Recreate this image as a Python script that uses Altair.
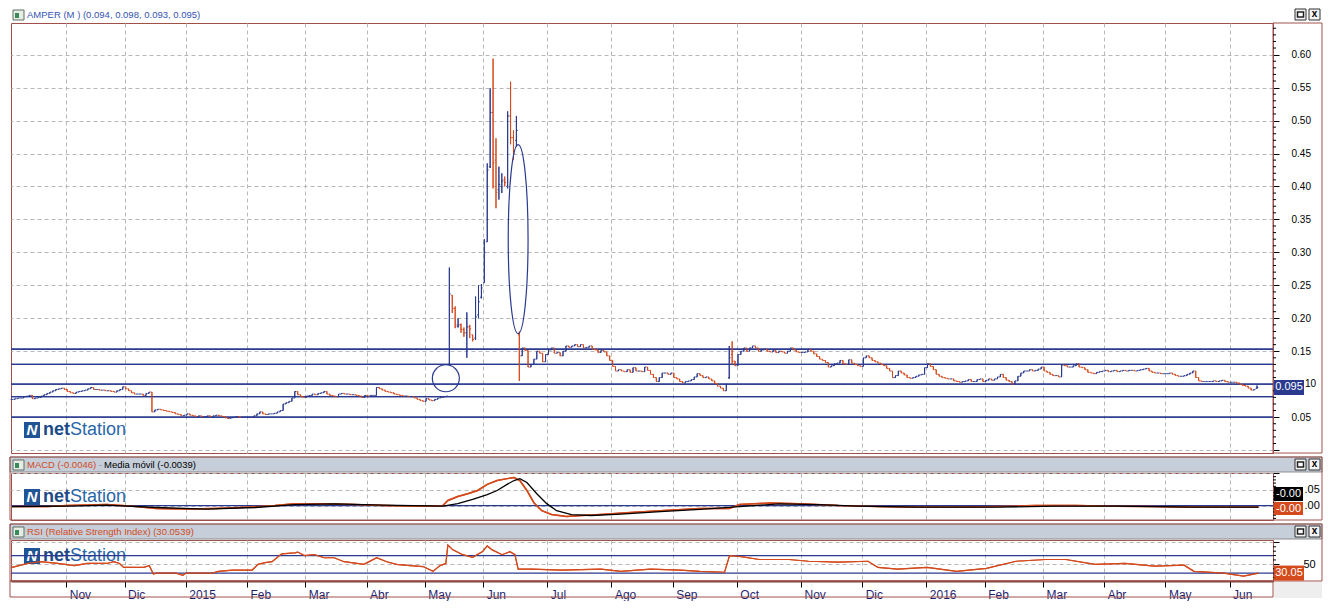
import altair as alt
import pandas as pd

FONT = "Liberation Sans"
NAVY = "#2a3a8f"
ORANGE = "#d44a1c"
BROWN = "#a0504a"
GRID = "#b8b8b8"
BAR_BG = "#c5ced9"
TITLE_BLUE = "#3553b0"

# ---------------- daily closes, grouped by month ----------------
c_2014_10 = [0.077,0.078,0.079,0.079,0.081,0.082,0.083,0.078,0.079,0.080,0.082,0.084,0.086,0.088,0.090,0.092,0.093,0.094,0.092]
c_2014_11 = [0.089,0.087,0.086,0.088,0.089,0.090,0.091,0.093,0.095,0.092,0.092,0.091,0.091,0.090,0.090,0.089,0.088,0.090,0.092,0.096]
c_2014_12 = [0.093,0.090,0.087,0.085,0.085,0.085,0.083,0.086,0.088,0.058,0.061,0.062,0.061,0.060,0.059,0.058,0.057,0.055,0.054,0.052,0.053]
c_2015_01 = [0.055,0.053,0.052,0.051,0.052,0.051,0.051,0.052,0.051,0.052,0.053,0.052,0.051,0.049,0.048,0.049,0.050,0.051,0.050,0.050,0.050]
c_2015_02 = [0.050,0.050,0.052,0.055,0.058,0.055,0.054,0.055,0.055,0.056,0.058,0.060,0.070,0.072,0.074,0.079,0.089,0.084,0.081,0.080]
c_2015_03 = [0.082,0.083,0.085,0.084,0.086,0.087,0.089,0.085,0.083,0.082,0.081,0.085,0.086,0.085,0.085,0.084,0.084,0.083,0.082,0.080,0.083]
c_2015_04 = [0.082,0.083,0.083,0.095,0.093,0.091,0.089,0.088,0.087,0.085,0.084,0.083,0.082,0.082,0.081,0.081,0.079,0.077,0.075,0.074]
c_2015_05 = [0.078,0.076,0.075,0.077,0.079,0.080,0.081,0.082,0.237,0.215,0.190,0.190,0.183,0.178,0.187,0.184,0.168,0.202,0.225,0.246]
c_2015_06 = [0.300,0.425,0.512,0.436,0.391,0.403,0.408,0.406,0.507,0.474,0.450,0.485,0.143,0.155,0.151,0.126,0.130,0.138,0.150,0.147,0.134,0.145]
c_2015_07 = [0.152,0.155,0.147,0.148,0.143,0.150,0.158,0.156,0.158,0.160,0.157,0.160,0.155,0.156,0.158,0.153,0.152,0.148,0.151,0.149,0.143,0.136]
c_2015_08 = [0.127,0.120,0.122,0.120,0.119,0.122,0.118,0.125,0.120,0.120,0.119,0.126,0.121,0.115,0.110,0.104,0.110,0.117,0.117,0.115,0.117]
c_2015_09 = [0.110,0.108,0.104,0.102,0.104,0.105,0.107,0.111,0.116,0.113,0.110,0.111,0.108,0.105,0.101,0.097,0.094,0.090,0.100,0.140,0.135,0.128]
c_2015_10 = [0.145,0.150,0.155,0.150,0.155,0.158,0.155,0.150,0.152,0.153,0.150,0.149,0.151,0.148,0.150,0.149,0.147,0.150,0.155,0.152,0.149,0.148]
c_2015_11 = [0.148,0.149,0.153,0.150,0.146,0.142,0.138,0.136,0.133,0.126,0.128,0.131,0.132,0.136,0.131,0.130,0.137,0.132,0.130,0.128,0.127]
c_2015_12 = [0.140,0.143,0.140,0.136,0.134,0.132,0.130,0.128,0.124,0.120,0.110,0.113,0.120,0.117,0.114,0.110,0.109,0.110,0.112,0.114,0.115,0.125]
c_2016_01 = [0.131,0.127,0.122,0.115,0.112,0.110,0.109,0.108,0.108,0.105,0.104,0.103,0.104,0.105,0.107,0.104,0.104,0.107,0.108,0.104]
c_2016_02 = [0.106,0.108,0.106,0.108,0.111,0.115,0.110,0.106,0.104,0.100,0.105,0.112,0.117,0.120,0.120,0.122,0.120,0.121,0.123,0.126]
c_2016_03 = [0.120,0.118,0.115,0.113,0.113,0.111,0.129,0.128,0.126,0.126,0.128,0.131,0.126,0.125,0.122,0.118,0.117,0.116,0.118,0.119,0.120]
c_2016_04 = [0.121,0.119,0.120,0.121,0.119,0.120,0.121,0.120,0.121,0.121,0.120,0.121,0.122,0.123,0.124,0.120,0.118,0.117,0.117,0.116,0.116]
c_2016_05 = [0.116,0.117,0.115,0.113,0.112,0.112,0.113,0.115,0.117,0.120,0.110,0.105,0.104,0.104,0.104,0.104,0.105,0.104,0.105,0.106,0.104,0.103]
c_2016_06 = [0.103,0.103,0.102,0.100,0.098,0.097,0.094,0.091,0.092,0.095]

month_names = ["Oct", "Nov", "Dic", "2015", "Feb", "Mar", "Abr", "May", "Jun", "Jul", "Ago",
               "Sep", "Oct", "Nov", "Dic", "2016", "Feb", "Mar", "Abr", "May", "Jun"]
month_closes = [c_2014_10, c_2014_11, c_2014_12, c_2015_01, c_2015_02, c_2015_03, c_2015_04,
                c_2015_05, c_2015_06, c_2015_07, c_2015_08, c_2015_09, c_2015_10, c_2015_11,
                c_2015_12, c_2016_01, c_2016_02, c_2016_03, c_2016_04, c_2016_05, c_2016_06]

# full open/high/low for the wide-range sessions (day index)
detail_idx = list(range(150, 175)) + [246, 247, 427]
detail_open = [0.130,0.235,0.215,0.188,0.190,0.183,0.178,0.187,0.175,0.170,0.205,0.232,0.254,0.316,
               0.430,0.512,0.440,0.395,0.400,0.410,0.400,0.507,0.474,0.470,0.175,0.110,0.145,0.094]
detail_high = [0.277,0.235,0.218,0.200,0.192,0.186,0.209,0.190,0.175,0.233,0.250,0.252,0.320,0.435,
               0.549,0.594,0.473,0.430,0.420,0.415,0.514,0.559,0.485,0.507,0.180,0.158,0.165,0.098]
detail_low = [0.128,0.208,0.185,0.186,0.178,0.172,0.140,0.170,0.165,0.167,0.200,0.230,0.254,0.316,
              0.428,0.397,0.367,0.380,0.390,0.400,0.397,0.464,0.440,0.460,0.105,0.108,0.130,0.093]

# drawn support / resistance lines and annotations
hlines = [0.153, 0.130, 0.100, 0.081, 0.050]
ring_i, ring_v = [148.8], [0.109]
oval_i, oval_v = [173.6], [0.320]

# MACD (orange) and its moving average (black)
macd_i = [0,12.2,19,32.5,42.7,49.5,59.7,69.8,80,90.2,97,107,117,127.5,141,147.8,149.5,152.9,156.3,159.7,
          163,166.4,169.8,172.2,174.2,176.6,179,181.7,185,190.2,195.3,202,212.2,222.4,236,246,249.5,259.7,
          269.8,283.4,297,310.5,324,337.6,351.2,364.7,378.3,391.9,405.4,427.5]
macd_v = [-0.003,-0.003,0.0,0.003,-0.003,-0.009,-0.011,-0.009,-0.005,0.0,0.006,0.006,0.003,0.0,-0.002,0.0,
          0.016,0.028,0.037,0.047,0.066,0.078,0.084,0.0875,0.078,0.047,0.009,-0.016,-0.028,-0.034,-0.031,
          -0.028,-0.022,-0.016,-0.009,-0.009,0.003,0.008,0.006,0.0,-0.003,-0.005,-0.005,-0.003,0.0,0.0,
          -0.002,-0.003,-0.005,-0.005]
sig_i = [0,19,32.5,49.5,66.4,83.4,97,110.5,127.5,147.8,152.9,158,163,166.4,169.8,172.2,174.2,176.6,180,
         183.4,186.8,191.9,198.6,208.8,222.4,236,249.5,263,276.6,290.2,310.5,337.6,358,378.3,405.4,427.5]
sig_v = [-0.003,-0.0015,0.0015,-0.006,-0.011,-0.006,0.003,0.005,0.0015,-0.0015,0.006,0.019,0.034,0.047,
         0.066,0.078,0.084,0.072,0.037,0.006,-0.016,-0.028,-0.031,-0.027,-0.019,-0.012,-0.003,0.005,0.003,
         -0.0015,-0.005,-0.005,-0.0015,-0.0015,-0.005,-0.005]

# RSI
rsi_i = [0,5.4,9.8,15.6,21.4,25.8,32.5,34.9,36.9,38.3,42.7,45.1,47.1,48.5,49.5,56.3,58.6,59.7,66.4,68.8,
         70.8,75.6,82.4,84.4,86.8,89.2,92.5,97,98,100.3,103.7,107.1,110.5,113.9,118.3,120.7,125.1,128.5,
         131.9,136.6,141,144.4,146.8,148.8,149.5,151.2,154.6,158,161.4,163,164.7,168.1,170.8,172.5,173.6,
         178.3,188.5,202,208.8,219,229.2,236,244.4,246.1,249.5,256.3,266.4,273.2,283.4,293.6,297,303.7,
         313.9,324,334.2,344.4,354.6,361.4,371.5,381.7,391.9,402,405.4,415.6,422.4,427.5]
rsi_v = [43,52,56,52,47,52,52,56,52,43,43,43,47,28,30,30,25,30,30,30,34,37,37,50,54,56,74,76,78,70,72,
         65,65,56,52,50,65,56,50,47,45,34,47,52,94,83,72,66,79,92,83,72,79,72,39,39,37,39,34,39,37,34,32,
         70,68,61,61,57,55,57,43,39,43,34,41,57,61,61,50,52,46,48,34,30,23,30]

# ---------------- build tables ----------------
closes = [c for m in month_closes for c in m]
starts, n = [], 0
for m in month_closes:
    starts.append(n)
    n += len(m)
tick_pos = [s - 0.4 for s in starts[1:]]
tick_names = month_names[1:]

detail = {i: (o, h, l) for i, o, h, l in zip(detail_idx, detail_open, detail_high, detail_low)}
rows, prev = [], closes[0]
for i, c in enumerate(closes):
    if i in detail:
        o, h, l = detail[i]
    else:
        o, h, l = prev, max(prev, c), min(prev, c)
    rows.append(dict(i=i, il=i - 0.45, ir=i + 0.45, o=o, h=h, l=l, c=c, d="down" if c < o else "up"))
    prev = c
bars = pd.DataFrame(rows)

one = pd.DataFrame({"k": [0]})

PW = 1262
AX = 49
H1, H2, H3 = 430, 47, 41
XS = alt.Scale(domain=[-0.34, 432.5], nice=False, zero=False)

conds = []
for k in range(len(tick_pos) - 1):
    mid = (tick_pos[k] + tick_pos[k + 1]) / 2
    conds.append(f"datum.value < {mid:.2f} ? '{tick_names[k]}' : ")
x_label_expr = "".join(conds) + f"'{tick_names[-1]}'"

XA_GRID = alt.Axis(values=tick_pos, grid=True, gridColor=GRID, gridDash=[4, 3], labels=False,
                   ticks=False, domain=False, title=None)
XA_BOTTOM = alt.Axis(values=tick_pos, grid=True, gridColor=GRID, gridDash=[4, 3], labelExpr=x_label_expr,
                     labelAlign="left", labelOffset=3, labelPadding=2, labelFontSize=12,
                     labelColor="#1f1f70", labelFont=FONT, tickSize=6, tickColor="black",
                     domainColor="#7a3a36", domainWidth=2, title=None, labelOverlap=False,
                     labelFlush=False, labelBound=False)


def txt(s, x, y, color="black", size=9.5, weight="normal", align="left", style="normal"):
    return alt.Chart(one).mark_text(text=s, align=align, baseline="middle", color=color, fontSize=size,
                                    fontWeight=weight, fontStyle=style, font=FONT).encode(
        x=alt.value(x), y=alt.value(y))


def rect(x, x2, y, y2, fill="white", stroke=None, sw=1, fo=1):
    kw = dict(fill=fill, fillOpacity=fo)
    if stroke:
        kw.update(stroke=stroke, strokeWidth=sw)
    return alt.Chart(one).mark_rect(**kw).encode(x=alt.value(x), x2=alt.value(x2), y=alt.value(y),
                                                 y2=alt.value(y2))


def title_bar(bg, parts):
    layers = []
    if bg:
        layers.append(rect(-1, PW + AX, -16, -1, fill=bg, stroke="#8d8d8d"))
    layers.append(rect(2, 13, -13, -3, fill="#e6ece6", stroke="#5f6f63"))
    layers.append(rect(4, 8, -10, -5, fill="#3b8a5b"))
    for s, x, color in parts:
        layers.append(txt(s, x, -8, color))
    layers.append(rect(1284, 1295, -14, -3, fill="#f4f4f4", stroke="#303030"))
    layers.append(rect(1286.5, 1292.5, -11, -6, fill="white", stroke="#202020", sw=1.5))
    layers.append(rect(1298, 1309, -14, -3, fill="#f4f4f4", stroke="#303030"))
    layers.append(txt("x", 1303.5, -9, size=10, weight="bold", align="center"))
    return layers


def logo(y):
    return [rect(13, 29, y - 8, y + 8, fill="#1f5596"),
            txt("N", 21, y, color="white", size=15, weight="bold", align="center", style="italic"),
            txt("net", 32, y, color="#1d4a88", size=18, weight="bold"),
            txt("Station", 59, y, color="#2966a8", size=18)]


def minor_ticks(vals, yscale, yaxis):
    return alt.Chart(pd.DataFrame({"v": vals})).mark_rule(color="black", strokeWidth=1).encode(
        x=alt.value(PW), x2=alt.value(PW + 3), y=alt.Y("v:Q", scale=yscale, axis=yaxis))


BOX = "M-1,-0.5H1V0.5H-1Z"


def value_box(v, yscale, yaxis, fill, label):
    d = pd.DataFrame({"v": [v]})
    b = alt.Chart(d).mark_point(shape=BOX, size=900, filled=True, fill=fill, opacity=1, strokeWidth=0).encode(
        x=alt.value(PW + 16), y=alt.Y("v:Q", scale=yscale, axis=yaxis))
    t = alt.Chart(d).mark_text(text=label, color="white", fontSize=11, font=FONT, align="center",
                               baseline="middle").encode(x=alt.value(PW + 16),
                                                         y=alt.Y("v:Q", scale=yscale, axis=yaxis))
    return [b, t]


color_enc = alt.Color("d:N", scale=alt.Scale(domain=["up", "down"], range=[NAVY, ORANGE]), legend=None)

# ---------------- main price panel ----------------
Y1 = alt.Scale(domain=[-0.0044, 0.648], nice=False, zero=False)
y1_vals = [round(k * 0.05, 2) for k in range(0, 13)]
YA1 = alt.Axis(orient="right", values=y1_vals,
               labelExpr="(datum.value < 0.01 || abs(datum.value - 0.1) < 0.001) ? '' : format(datum.value, '.2f')",
               grid=True, gridColor=GRID, gridDash=[4, 3], tickSize=6, tickColor="black",
               domainColor=BROWN, labelFontSize=10, labelFont=FONT, labelPadding=12,
               labelColor="black", title=None)


def X1(f):
    return alt.X(f, scale=XS, axis=XA_GRID)


def Y1e(f):
    return alt.Y(f, scale=Y1, axis=YA1)


vbar = alt.Chart(bars).mark_rule(strokeWidth=1).encode(x=X1("i:Q"), y=Y1e("l:Q"), y2="h:Q", color=color_enc)
otick = alt.Chart(bars).mark_rule(strokeWidth=1).encode(x=X1("il:Q"), x2="i:Q", y=Y1e("o:Q"), color=color_enc)
ctick = alt.Chart(bars).mark_rule(strokeWidth=1).encode(x=X1("i:Q"), x2="ir:Q", y=Y1e("c:Q"), color=color_enc)
hl = alt.Chart(pd.DataFrame({"v": hlines})).mark_rule(color=NAVY, strokeWidth=1.3).encode(y=Y1e("v:Q"))
ring = alt.Chart(pd.DataFrame({"i": ring_i, "v": ring_v})).mark_point(
    shape="circle", size=27 * 27, filled=False, color=NAVY, strokeWidth=1.2, opacity=1).encode(
    x=X1("i:Q"), y=Y1e("v:Q"))
oval = alt.Chart(pd.DataFrame({"i": oval_i, "v": oval_v})).mark_point(
    shape="M0,-1 A0.105,1 0 1,1 0,1 A0.105,1 0 1,1 0,-1 Z", size=189 * 189, filled=False, color=NAVY,
    strokeWidth=1.2, opacity=1).encode(x=X1("i:Q"), y=Y1e("v:Q"))
main_minor = [round(k * 0.01, 2) for k in range(1, 65) if k % 5]
# the 0.10 axis label peeks out to the right of the price box
ten_label = alt.Chart(pd.DataFrame({"v": [0.10]})).mark_text(
    text="10", align="left", baseline="middle", fontSize=10, font=FONT, color="black").encode(
    x=alt.value(PW + 32), y=Y1e("v:Q"))

main_layers = ([hl, vbar]
               + title_bar(None, [("AMPER (M ) (0.094, 0.098, 0.093, 0.095)", 16, TITLE_BLUE)])
               + [rect(PW, PW + AX, 0, H1, fill="white", stroke=BROWN, fo=0)]
               + logo(H1 - 23)
               + [hl, vbar, otick, ctick, ring, oval, minor_ticks(main_minor, Y1, YA1)]
               + value_box(0.095, Y1, YA1, NAVY, "0.095")
               + [ten_label])
main = alt.layer(*main_layers).properties(width=PW, height=H1)

# ---------------- MACD panel ----------------
Y2 = alt.Scale(domain=[-0.045, 0.1015], nice=False, zero=False)
YA2 = alt.Axis(orient="right", values=[0, 0.05, 0.10],
               labelExpr="datum.value == 0 ? '.00' : datum.value < 0.08 ? '.05' : ''",
               grid=True, gridColor=GRID, gridDash=[4, 3], tickSize=6, tickColor="black",
               domainColor=BROWN, labelFontSize=11, labelFont=FONT, labelPadding=25,
               labelColor="black", title=None)
macd_df = pd.DataFrame({"i": macd_i, "v": macd_v})
sig_df = pd.DataFrame({"i": sig_i, "v": sig_v})
zero = alt.Chart(pd.DataFrame({"v": [0.0]})).mark_rule(color=NAVY, strokeWidth=1.2).encode(
    y=alt.Y("v:Q", scale=Y2, axis=YA2))
macd_line = alt.Chart(macd_df).mark_line(color=ORANGE, strokeWidth=1.5).encode(
    x=alt.X("i:Q", scale=XS, axis=XA_GRID), y=alt.Y("v:Q", scale=Y2, axis=YA2))
sig_line = alt.Chart(sig_df).mark_line(color="black", strokeWidth=1.3).encode(
    x=alt.X("i:Q", scale=XS, axis=XA_GRID), y=alt.Y("v:Q", scale=Y2, axis=YA2))
macd_minor = [round(k * 0.01, 2) for k in range(-4, 11) if k % 5]
macd_layers = ([macd_line]
               + title_bar(BAR_BG, [("MACD (-0.0046)", 16, ORANGE), ("-", 88, "#8a8a8a"),
                                    ("Media móvil (-0.0039)", 93, "black")])
               + [rect(-1, PW + AX, -16, H2, fill="white", stroke=BROWN, fo=0)]
               + logo(24)
               + [zero, macd_line, sig_line, minor_ticks(macd_minor, Y2, YA2),
                  rect(PW + 1, PW + 30, 14, 28, fill="black"),
                  txt("-0.00", PW + 15.5, 21, color="white", size=11, align="center"),
                  rect(PW + 1, PW + 30, 29, 42, fill=ORANGE),
                  txt("-0.00", PW + 15.5, 35.5, color="white", size=11, align="center")])
macd = alt.layer(*macd_layers).properties(width=PW, height=H2)

# ---------------- RSI panel ----------------
Y3 = alt.Scale(domain=[12, 105.5], nice=False, zero=False)
YA3 = alt.Axis(orient="right", values=[50, 100],
               labelExpr="datum.value == 50 ? '50' : ''",
               grid=True, gridColor=GRID, gridDash=[4, 3], tickSize=6, tickColor="black",
               domainColor=BROWN, labelFontSize=11, labelFont=FONT, labelPadding=24,
               labelColor="black", title=None)
rsi_df = pd.DataFrame({"i": rsi_i, "v": rsi_v})
rsi_lines = alt.Chart(pd.DataFrame({"v": [70, 30]})).mark_rule(color=NAVY, strokeWidth=1.2).encode(
    y=alt.Y("v:Q", scale=Y3, axis=YA3))
rsi_line = alt.Chart(rsi_df).mark_line(color=ORANGE, strokeWidth=1.2).encode(
    x=alt.X("i:Q", scale=XS, axis=XA_BOTTOM), y=alt.Y("v:Q", scale=Y3, axis=YA3))
rsi_minor = [20, 30, 40, 60, 70, 80, 90]
rsi_layers = ([rsi_line]
              + title_bar(BAR_BG, [("RSI (Relative Strength Index) (30.0539)", 16, ORANGE)])
              + [rect(-1, PW + AX, -16, H3, fill="white", stroke=BROWN, fo=0),
                 rect(-1, PW, H3, H3 + 16, fill="white", stroke=BROWN, fo=0),
                 rect(PW + 1, PW + AX, H3 + 1, H3 + 17, fill="#eeeeee")]
              + logo(16)
              + [rsi_lines, rsi_line, minor_ticks(rsi_minor, Y3, YA3)]
              + value_box(30.05, Y3, YA3, ORANGE, "30.05"))
rsi = alt.layer(*rsi_layers).properties(width=PW, height=H3)

chart = alt.vconcat(main, macd, rsi, spacing=20, bounds="flush").properties(
    padding={"left": 0, "top": 0, "right": 0, "bottom": 0}, background="white"
).configure_view(stroke=BROWN, strokeWidth=1).configure_axis(labelFont=FONT)

chart.save("out.html", embed_options={"renderer": "svg", "actions": False})
